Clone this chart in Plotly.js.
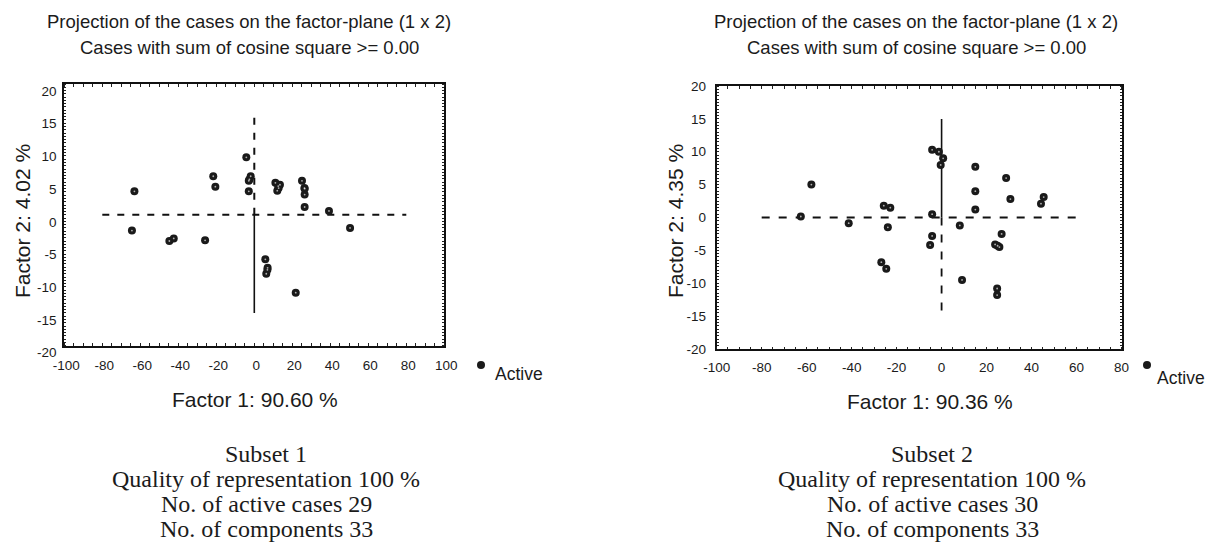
<!DOCTYPE html>
<html><head><meta charset="utf-8">
<script src="https://cdn.plot.ly/plotly-3.0.1.min.js"></script>
<style>html,body{margin:0;padding:0;background:#fff;}#chart{width:1206px;height:547px;}</style>
</head><body><div id="chart"></div>
<script>
// ---------- data ----------
// Subset 1 : factor coordinates of the 29 active cases
const subset1Factor1 = [-63.1,-64.4,-44.7,-42.4,-25.9,-21.6,-20.5,-4.2,-1.9,-2.9,-2.9,-2.6,
  11.1,13.5,12.8,12.1,12.6,25.1,26.5,26.5,26.5,26.4,39.3,50.4,5.8,7.0,6.3,6.9,21.8];
const subset1Factor2 = [3.6,-2.4,-4.0,-3.6,-3.9,5.9,4.3,8.8,5.9,5.2,3.6,5.4,
  4.9,4.6,4.1,3.7,4.4,5.2,4.0,3.1,1.2,4.1,0.6,-2.0,-6.8,-8.1,-9.0,-8.4,-11.9];
// Subset 2 : factor coordinates of the 30 active cases
const subset2Factor1 = [-57.9,-62.6,-41.3,-25.7,-22.8,-23.9,-26.8,-24.6,-4.2,-1.2,0.7,-0.4,
  -4.2,-4.2,-5.1,8.1,9.1,15.0,15.0,15.0,28.7,30.6,26.7,23.8,25.7,24.7,24.7,44.2,45.4,24.9];
const subset2Factor2 = [5.0,0.15,-0.86,1.8,1.5,-1.5,-6.8,-7.8,10.3,10.0,9.0,8.0,
  0.5,-2.8,-4.2,-1.2,-9.5,7.7,4.0,1.2,6.0,2.8,-2.5,-4.1,-4.5,-10.8,-11.8,2.1,3.1,-4.3];
// reference axes drawn through the origin
const s1HorizX = [-80, 80], s1HorizY = [0, 0];
const s1UpX = [0, 0], s1UpY = [0, 15];
const s1DownX = [0, 0], s1DownY = [0, -15];
const s2HorizX = [-80, 60], s2HorizY = [0, 0];
const s2UpX = [0, 0], s2UpY = [0, 15];
const s2DownX = [0, 0], s2DownY = [0, -15];
// ticks
const xTicks1 = [-100,-80,-60,-40,-20,0,20,40,60,80,100];
const xTicks2 = [-100,-80,-60,-40,-20,0,20,40,60,80];
const yTicks = [-20,-15,-10,-5,0,5,10,15,20];
// texts
const titleLine1 = 'Projection of the cases on the factor-plane (1 x 2)';
const titleLine2 = 'Cases with sum of cosine square >= 0.00';
const xTitle1 = 'Factor 1: 90.60 %', yTitle1 = 'Factor 2: 4.02 %';
const xTitle2 = 'Factor 1: 90.36 %', yTitle2 = 'Factor 2: 4.35 %';
const caption1 = ['Subset 1','Quality of representation 100 %','No. of active cases 29','No. of components 33'];
const caption2 = ['Subset 2','Quality of representation 100 %','No. of active cases 30','No. of components 33'];
const legendName = 'Active';

// ---------- helpers ----------
const W = 1206, H = 547;
const PX = v => v / W, PY = v => 1 - v / H;
const SANS = 'Liberation Sans, Arial, sans-serif';
const SERIF = 'Liberation Serif, Times New Roman, serif';
const INK = '#1b1b1b';

function pointTraces(x, y, xa, ya, leg) {
  return [
    {x, y, xaxis: xa, yaxis: ya, type: 'scatter', mode: 'markers', name: '', legend: leg,
     showlegend: true, marker: {size: 8, color: '#1a1a1a'}, hoverinfo: 'x+y'},
    {x, y, xaxis: xa, yaxis: ya, type: 'scatter', mode: 'markers', showlegend: false, hoverinfo: 'skip',
     marker: {symbol: 'circle', size: 1.8, color: 'rgba(255,255,255,0.65)', line: {width: 0}}}
  ];
}
function lineTrace(x, y, xa, ya, dash, width) {
  return {x, y, xaxis: xa, yaxis: ya, type: 'scatter', mode: 'lines', showlegend: false, hoverinfo: 'skip',
          line: {color: '#111', width, dash}};
}

const traces = [
  lineTrace(s1HorizX, s1HorizY, 'x', 'y', '7px,8px', 2),
  lineTrace(s1UpX, s1UpY, 'x', 'y', '7px,8px', 2),
  lineTrace(s1DownX, s1DownY, 'x', 'y', 'solid', 1.6),
  lineTrace(s2HorizX, s2HorizY, 'x2', 'y2', '8px,9px', 1.8),
  lineTrace(s2UpX, s2UpY, 'x2', 'y2', 'solid', 1.6),
  lineTrace(s2DownX, s2DownY, 'x2', 'y2', '8px,9px', 1.8),
  ...pointTraces(subset1Factor1, subset1Factor2, 'x', 'y', 'legend'),
  ...pointTraces(subset2Factor1, subset2Factor2, 'x2', 'y2', 'legend2')
];

function xAxis(domain, range, ticks, shift, standoff, anchor) {
  return {domain, range, anchor, showgrid: false, zeroline: false, showline: true, linewidth: 2, linecolor: '#111',
    mirror: 'allticks', ticks: '', tickvals: ticks, ticktext: ticks.map(String), ticklabelshift: shift,
    ticklabelstandoff: standoff, tickfont: {family: SANS, size: 13.5, color: INK},
    minor: {ticks: 'inside', ticklen: 2.5, tickwidth: 1, tickcolor: '#222', dtick: 5, showgrid: false},
    fixedrange: true};
}
function yAxis(domain, shift, standoff, anchor) {
  return {domain, range: [-20, 20], anchor, showgrid: false, zeroline: false, showline: true, linewidth: 2, linecolor: '#111',
    mirror: 'allticks', ticks: '', tickvals: yTicks, ticktext: yTicks.map(String), ticklabelshift: shift,
    ticklabelstandoff: standoff, tickfont: {family: SANS, size: 13.5, color: INK},
    minor: {ticks: 'inside', ticklen: 2, tickwidth: 1, tickcolor: '#222', dtick: 0.5, showgrid: false},
    fixedrange: true};
}

function txt(text, x, y, size, family, angle) {
  return {text, x: PX(x), y: PY(y), xref: 'paper', yref: 'paper', xanchor: 'center', yanchor: 'middle',
          showarrow: false, textangle: angle || 0, font: {family, size, color: INK}};
}

const annotations = [
  txt(titleLine1, 249, 22, 18.5, SANS), txt(titleLine2, 249, 48, 18.5, SANS),
  txt(titleLine1, 916, 22, 18.5, SANS), txt(titleLine2, 916, 48, 18.5, SANS),
  txt(xTitle1, 255, 399, 21, SANS), txt(yTitle1, 23, 221, 21, SANS, -90),
  txt(xTitle2, 930, 401, 21, SANS), txt(yTitle2, 676, 221, 21, SANS, -90),
  {text: legendName, x: PX(493), y: PY(374), xref: 'paper', yref: 'paper', xanchor: 'left', yanchor: 'middle',
   showarrow: false, font: {family: SANS, size: 17.5, color: INK}},
  {text: legendName, x: PX(1155), y: PY(378), xref: 'paper', yref: 'paper', xanchor: 'left', yanchor: 'middle',
   showarrow: false, font: {family: SANS, size: 17.5, color: INK}}
];
const capY = [454, 479, 504, 529];
caption1.forEach((t, i) => annotations.push(txt(t, 266, capY[i], 24, SERIF)));
caption2.forEach((t, i) => annotations.push(txt(t, 932, capY[i], 24, SERIF)));

const legendBase = {xanchor: 'left', yanchor: 'middle', bgcolor: 'rgba(0,0,0,0)', borderwidth: 0,
                    font: {family: SANS, size: 8, color: INK}, itemwidth: 30};

const layout = {
  width: W, height: H, margin: {l: 0, r: 0, t: 0, b: 0},
  paper_bgcolor: '#fff', plot_bgcolor: '#fff', showlegend: true,
  xaxis: xAxis([PX(64.3), PX(444.3)], [-100, 100], xTicks1, 2, 6, 'y'),
  yaxis: yAxis([PY(345.7), PY(84)], 7, 3, 'x'),
  xaxis2: xAxis([PX(716.7), PX(1121.5)], [-100, 80], xTicks2, 0, 5, 'y2'),
  yaxis2: yAxis([PY(349), PY(86)], 0, 6, 'x2'),
  legend: Object.assign({x: PX(481 - 20), y: PY(365)}, legendBase),
  legend2: Object.assign({x: PX(1147 - 20), y: PY(365)}, legendBase),
  annotations
};

Plotly.newPlot('chart', traces, layout, {displayModeBar: false, staticPlot: true});
</script></body></html>
